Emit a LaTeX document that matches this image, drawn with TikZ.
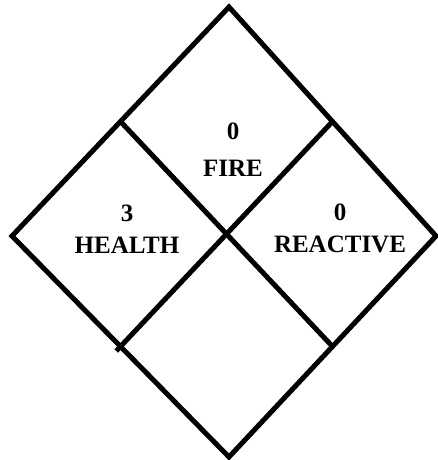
\documentclass[tikz,border=0pt]{standalone}
\usepackage{fontspec}
\setmainfont{Liberation Serif}
\usepackage{tikz}
\usetikzlibrary{positioning, calc}

\begin{document}
\begin{tikzpicture}[x=1pt, y=-1pt, line width=5pt, line join=miter,
  lbl/.style={font=\fontsize{25}{32}\selectfont\bfseries, align=center, inner sep=0pt}]
  \useasboundingbox (0,0) rectangle (438,460);

  % Vrcholy kosoctverce
  \coordinate (top) at (229,7);
  \coordinate (left) at (12,236);
  \coordinate (right) at (436,236);
  \coordinate (bottom) at (229,457);

  % Obrys
  \draw (top) -- (right) -- (bottom) -- (left) -- cycle;

  % Vnitrni deleni
  \coordinate (tl) at ($(top)!0.5!(left)$);
  \coordinate (tr) at ($(top)!0.5!(right)$);
  \coordinate (bl) at ($(bottom)!0.5!(left)$);
  \coordinate (br) at ($(bottom)!0.5!(right)$);
  \draw (tl) -- (br);
  \draw (tr) -- ($(tr)!1.02!(bl)$);

  % Popisky
  \node[lbl] (fire) at (233,150) {0\\[5pt]FIRE};
  \node[lbl] (health) at (127,229) {3\\HEALTH};
  \node[lbl] (reactive) at (340,228) {0\\REACTIVE};
\end{tikzpicture}
\end{document}
